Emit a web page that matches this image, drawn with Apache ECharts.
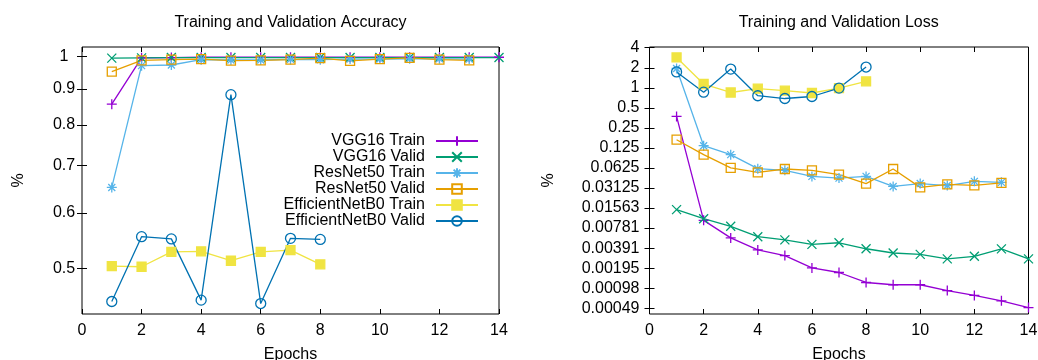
<!DOCTYPE html>
<html><head><meta charset="utf-8">
<script src="https://cdn.jsdelivr.net/npm/echarts@6/dist/echarts.min.js"></script>
<style>html,body{margin:0;padding:0;background:#fff}#c{width:1038px;height:360px}</style>
</head><body><div id="c"></div>
<script>
const epochs = [1,2,3,4,5,6,7,8,9,10,11,12,13,14];
const seriesNames = ['VGG16 Train','VGG16 Valid','ResNet50 Train','ResNet50 Valid','EfficientNetB0 Train','EfficientNetB0 Valid'];

// Accuracy
const vgg16TrainAcc = [0.856,0.996,0.997,0.998,0.998,0.998,0.998,0.998,0.998,0.998,0.998,0.998,0.998,0.998];
const vgg16ValidAcc = [0.995,0.996,0.997,0.997,0.997,0.997,0.997,0.997,0.997,0.997,0.997,0.997,0.997,0.997];
const resnet50TrainAcc = [0.652,0.971,0.973,0.990,0.989,0.989,0.991,0.990,0.992,0.992,0.993,0.993,0.992];
const resnet50ValidAcc = [0.952,0.988,0.990,0.992,0.987,0.988,0.990,0.995,0.986,0.992,0.996,0.990,0.988];
const effTrainAcc = [0.504,0.503,0.528,0.529,0.513,0.528,0.531,0.507];
const effValidAcc = [0.449,0.555,0.551,0.451,0.883,0.446,0.552,0.550];

// Loss
const vgg16TrainLoss = [0.372,0.0102,0.00556,0.00367,0.00302,0.00197,0.00168,0.00119,0.00110,0.00110,0.00090,0.00076,0.00063,0.00050];
const vgg16ValidLoss = [0.0148,0.0108,0.0083,0.0058,0.0052,0.00444,0.00470,0.00382,0.00330,0.00315,0.00269,0.00294,0.00380,0.00269];
const resnet50TrainLoss = [1.95,0.135,0.099,0.061,0.0575,0.0467,0.044,0.0467,0.033,0.0364,0.034,0.0393,0.038];
const resnet50ValidLoss = [0.166,0.099,0.0625,0.0537,0.0603,0.0575,0.0497,0.0364,0.0603,0.0319,0.0354,0.0342,0.0372];
const effTrainLoss = [2.86,1.14,0.85,0.97,0.905,0.835,0.99,1.25];
const effValidLoss = [1.73,0.86,1.91,0.76,0.69,0.74,0.99,2.05];

// Tick values
const accTicks = [0.5,0.6,0.7,0.8,0.9,1];
const lossTicks = [4,2,1,0.5,0.25,0.125,0.0625,0.03125,0.015625,0.0078125,0.00390625,0.001953125,0.0009765625,0.00048828125];

const FONT = '"Liberation Sans", Arial, sans-serif';
const styles = [
  {symbol:'path://M5,0L5,10M0,5L10,5', size:10, color:'#9400d3', fill:'#9400d3'},
  {symbol:'path://M0,0L10,10M10,0L0,10', size:9, color:'#009e73', fill:'#009e73'},
  {symbol:'path://M5,0L5,10M0,5L10,5M1.5,1.5L8.5,8.5M8.5,1.5L1.5,8.5', size:10, color:'#56b4e9', fill:'#56b4e9'},
  {symbol:'rect', size:9, color:'#e69f00', fill:'rgba(0,0,0,0)'},
  {symbol:'rect', size:9, color:'#f0e442', fill:'#f0e442'},
  {symbol:'circle', size:10, color:'#0072b2', fill:'rgba(0,0,0,0)'}
];

function mk(idx, vals, gi) {
  const s = styles[idx];
  return {
    name: seriesNames[idx], type:'line', xAxisIndex: gi*2, yAxisIndex: gi*2,
    data: vals.map((v,i)=>[epochs[i], v]),
    symbol: s.symbol, symbolSize: s.size, showAllSymbol: true, clip: false,
    lineStyle: {color: s.color, width: 1.3},
    itemStyle: {color: s.fill, borderColor: s.color, borderWidth: 1.3},
    emphasis: {disabled: true}, animation: false
  };
}

function xAx(gi, top) {
  return {
    type:'value', gridIndex: gi, position: top ? 'top' : 'bottom', min:0, max:14, interval:2,
    axisLine:{show:false},
    axisTick:{show:true, inside:true, length:5, lineStyle:{color:'#000', width:1}},
    axisLabel:{show:!top, color:'#000', fontSize:16, fontFamily:FONT, margin:9},
    splitLine:{show:false},
    name: top ? '' : 'Epochs', nameLocation:'middle', nameGap:33,
    nameTextStyle:{color:'#000', fontSize:16, fontFamily:FONT}
  };
}
function yAx(gi, right, opts) {
  return Object.assign({
    gridIndex: gi, position: right ? 'right' : 'left',
    axisLine:{show:false},
    axisTick:{show:true, inside:true, length:5, lineStyle:{color:'#000', width:1}},
    splitLine:{show:false}, minorTick:{show:false},
    nameLocation:'middle', nameRotate:90,
    nameTextStyle:{color:'#000', fontSize:16, fontFamily:FONT}
  }, opts);
}

const chart = echarts.init(document.getElementById('c'), null, {renderer:'canvas'});
chart.setOption({
  animation:false,
  backgroundColor:'#fff',
  title:[
    {text:'Training and Validation Accuracy', left:290.5, top:15, textAlign:'center', padding:0,
     textStyle:{fontSize:16, fontWeight:'normal', color:'#000', fontFamily:FONT}},
    {text:'Training and Validation Loss', left:838.7, top:15, textAlign:'center', padding:0,
     textStyle:{fontSize:16, fontWeight:'normal', color:'#000', fontFamily:FONT}}
  ],
  legend:{
    data: seriesNames, orient:'vertical', right:559, top:133, align:'right',
    itemWidth:42, itemHeight:12, itemGap:0, padding:0, selectedMode:false,
    textStyle:{fontSize:16, color:'#000', fontFamily:FONT, padding:[0,6,0,0]}
  },
  grid:[
    {left:82, top:47, width:417, height:267, show:true, borderColor:'#000', borderWidth:1,
     backgroundColor:'rgba(0,0,0,0)', outerBoundsMode:'none', containLabel:false},
    {left:649.5, top:47, width:379, height:267, show:true, borderColor:'#000', borderWidth:1,
     backgroundColor:'rgba(0,0,0,0)', outerBoundsMode:'none', containLabel:false}
  ],
  xAxis:[xAx(0,false), xAx(0,true), xAx(1,false), xAx(1,true)],
  yAxis:[
    yAx(0,false,{type:'log', logBase:10, min:0.431, max:1.032, name:'%', nameGap:55,
      axisTick:{show:true, inside:true, length:5, lineStyle:{color:'#000'}, customValues:accTicks},
      axisLabel:{color:'#000', fontSize:16, fontFamily:FONT, customValues:accTicks, align:'center', margin:18,
        formatter:v=>String(parseFloat(Number(v).toFixed(3)))}}),
    yAx(0,true,{type:'log', logBase:10, min:0.431, max:1.032,
      axisTick:{show:true, inside:true, length:5, lineStyle:{color:'#000'}, customValues:accTicks},
      axisLabel:{show:false, customValues:accTicks}}),
    yAx(1,false,{type:'log', logBase:2, min:0.0004, max:4.1, name:'%', nameGap:93,
      axisTick:{show:true, inside:true, length:5, lineStyle:{color:'#000'}, customValues:lossTicks},
      axisLabel:{color:'#000', fontSize:16, fontFamily:FONT, customValues:lossTicks, margin:10,
        formatter:v=>String(parseFloat(Number(v).toFixed(5)))}}),
    yAx(1,true,{type:'log', logBase:2, min:0.0004, max:4.1,
      axisTick:{show:true, inside:true, length:5, lineStyle:{color:'#000'}, customValues:lossTicks},
      axisLabel:{show:false, customValues:lossTicks}})
  ],
  series:[
    mk(0, vgg16TrainAcc, 0), mk(1, vgg16ValidAcc, 0), mk(2, resnet50TrainAcc, 0),
    mk(3, resnet50ValidAcc, 0), mk(4, effTrainAcc, 0), mk(5, effValidAcc, 0),
    mk(0, vgg16TrainLoss, 1), mk(1, vgg16ValidLoss, 1), mk(2, resnet50TrainLoss, 1),
    mk(3, resnet50ValidLoss, 1), mk(4, effTrainLoss, 1), mk(5, effValidLoss, 1)
  ]
});
</script></body></html>
